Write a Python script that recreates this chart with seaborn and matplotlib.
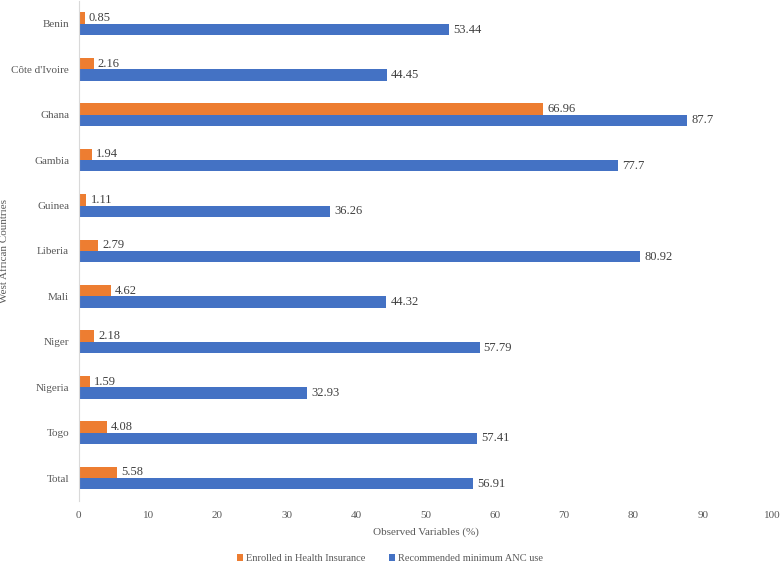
import matplotlib
matplotlib.use("Agg")
import matplotlib.pyplot as plt
import seaborn as sns
import pandas as pd

countries = ["Benin", "Côte d'Ivoire", "Ghana", "Gambia", "Guinea", "Liberia",
             "Mali", "Niger", "Nigeria", "Togo", "Total"]
insurance = [0.85, 2.16, 66.96, 1.94, 1.11, 2.79, 4.62, 2.18, 1.59, 4.08, 5.58]
anc_use = [53.44, 44.45, 87.7, 77.7, 36.26, 80.92, 44.32, 57.79, 32.93, 57.41, 56.91]
series = ["Enrolled in Health Insurance", "Recommended minimum ANC use"]
x_ticks = list(range(0, 101, 10))

df = pd.DataFrame({
    "country": countries * 2,
    "value": insurance + anc_use,
    "series": [series[0]] * len(countries) + [series[1]] * len(countries),
})

sns.set_style("white")
plt.rcParams["font.family"] = ["Liberation Serif", "DejaVu Serif"]

fig, ax = plt.subplots(figsize=(7.8, 5.64), dpi=100)
fig.subplots_adjust(left=0.101, right=0.99, bottom=0.112, top=0.998)

sns.barplot(data=df, x="value", y="country", hue="series", hue_order=series,
            palette=["#ED7D31", "#4472C4"], saturation=1, width=0.5,
            orient="h", linewidth=0, ax=ax, legend=True)

for c in ax.containers:
    ax.bar_label(c, fmt="%g", padding=3, fontsize=9, color="#404040")

ax.set_xlim(0, 100)
ax.set_xticks(x_ticks)
ax.set_ylim(10.5, -0.5)
ax.tick_params(axis="both", labelsize=8, colors="#595959", length=0, pad=7)
ax.set_xlabel("Observed Variables (%)", fontsize=8, color="#595959", labelpad=6)
ax.set_ylabel("West African Countries", fontsize=8, color="#595959")
ax.yaxis.set_label_coords(-0.1, 0.5)

for s in ["top", "right", "bottom"]:
    ax.spines[s].set_visible(False)
ax.spines["left"].set_color("#D9D9D9")

handles, labels = ax.get_legend_handles_labels()
ax.get_legend().remove()
fig.legend(handles, labels, loc="lower center", ncol=2, frameon=False,
           fontsize=7.5, handlelength=0.6, handleheight=0.6, handletextpad=0.3,
           columnspacing=2.2, bbox_to_anchor=(0.5, -0.015), labelcolor="#595959")

fig.savefig("out.png", dpi=100)
plt.close()
